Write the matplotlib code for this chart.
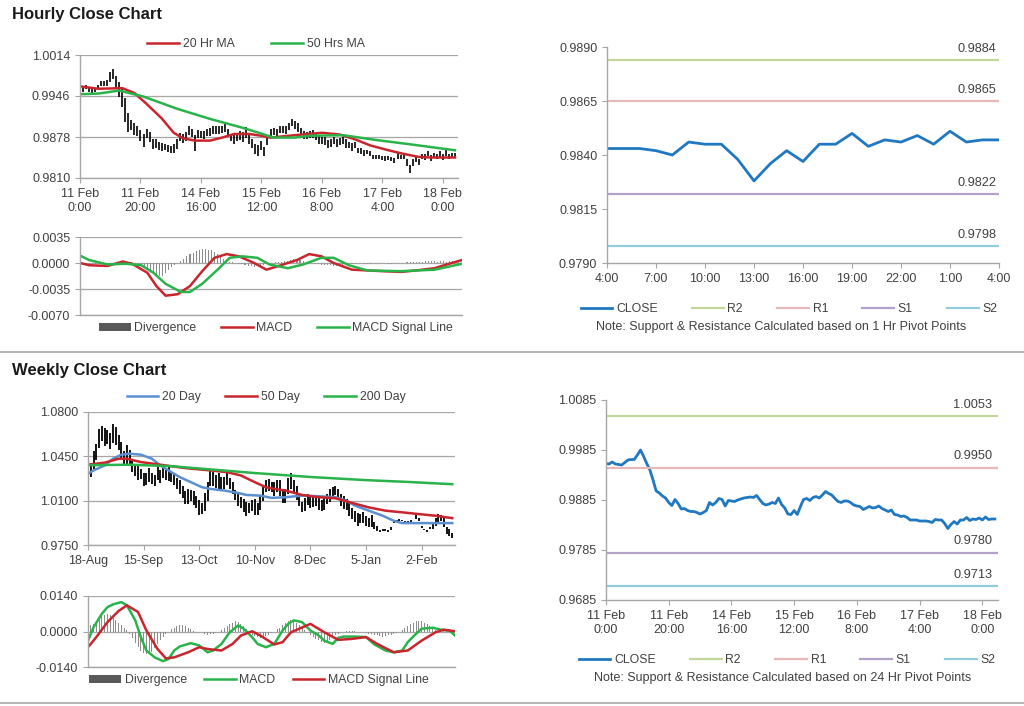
import numpy as np
import matplotlib
matplotlib.use("Agg")
import matplotlib.pyplot as plt
from matplotlib.lines import Line2D
from matplotlib.patches import Patch

plt.rcParams['font.family'] = ['Liberation Sans', 'DejaVu Sans']

# ---------------- hourly data (11 Feb 0:00 -> 18 Feb 4:00, 125 bars) ----------------
hourly_close = [
    0.9958, 0.9957, 0.9961, 0.9957, 0.9956, 0.9955, 0.9960, 0.9965, 0.9966, 0.9966,
    0.9975, 0.9985, 0.9972, 0.9958, 0.9945, 0.9925, 0.9903, 0.9899, 0.9893, 0.9889,
    0.9880, 0.9874, 0.9886, 0.9878, 0.9867, 0.9868, 0.9864, 0.9862, 0.9862, 0.9860,
    0.9857, 0.9860, 0.9864, 0.9880, 0.9875, 0.9880, 0.9888, 0.9886, 0.9873, 0.9884,
    0.9883, 0.9882, 0.9885, 0.9887, 0.9889, 0.9890, 0.9891, 0.9890, 0.9894, 0.9886,
    0.9878, 0.9875, 0.9877, 0.9880, 0.9878, 0.9889, 0.9876, 0.9869, 0.9857, 0.9856,
    0.9864, 0.9856, 0.9872, 0.9886, 0.9888, 0.9884, 0.9890, 0.9892, 0.9889, 0.9895,
    0.9902, 0.9898, 0.9895, 0.9888, 0.9882, 0.9880, 0.9883, 0.9883, 0.9880, 0.9875,
    0.9873, 0.9872, 0.9866, 0.9869, 0.9872, 0.9869, 0.9870, 0.9873, 0.9868, 0.9865,
    0.9862, 0.9865, 0.9856, 0.9855, 0.9852, 0.9853, 0.9850, 0.9845, 0.9845, 0.9845,
    0.9843, 0.9843, 0.9843, 0.9842, 0.9840, 0.9846, 0.9845, 0.9845, 0.9838, 0.9828,
    0.9836, 0.9842, 0.9837, 0.9845, 0.9845, 0.9850, 0.9844, 0.9847, 0.9846, 0.9849,
    0.9845, 0.9851, 0.9846, 0.9847, 0.9847,
]
# bar extent above / below close, in pips
hourly_up = [
    4, 3, 4, 3, 3, 4, 5, 6, 5, 6,
    10, 6, 8, 12, 14, 18, 14, 8, 9, 8,
    10, 9, 6, 9, 7, 6, 5, 6, 5, 5,
    6, 7, 10, 5, 8, 6, 8, 5, 9, 6,
    5, 6, 7, 6, 8, 7, 6, 6, 7, 6,
    5, 6, 7, 8, 9, 6, 8, 6, 10, 9,
    7, 6, 9, 6, 5, 7, 6, 5, 8, 6,
    6, 6, 6, 5, 6, 7, 5, 6, 5, 6,
    5, 6, 7, 5, 6, 5, 6, 5, 7, 5,
    6, 5, 4, 5, 4, 3, 4, 3, 3, 3,
    3, 3, 4, 3, 4, 5, 3, 3, 4, 3,
    5, 5, 4, 5, 4, 5, 4, 5, 4, 5,
    4, 5, 3, 4, 4,
]
hourly_dn = [
    3, 4, 3, 4, 5, 3, 4, 3, 4, 4,
    6, 10, 12, 14, 18, 22, 16, 10, 12, 10,
    8, 12, 10, 8, 9, 8, 7, 8, 6, 7,
    6, 8, 6, 9, 7, 8, 6, 8, 18, 7,
    6, 7, 6, 8, 6, 7, 8, 6, 7, 8,
    7, 8, 6, 7, 9, 12, 10, 9, 8, 10,
    8, 10, 8, 6, 7, 6, 5, 7, 6, 5,
    6, 7, 8, 6, 7, 6, 7, 6, 7, 8,
    6, 7, 6, 7, 6, 7, 6, 7, 8, 6,
    7, 6, 5, 6, 5, 4, 4, 3, 3, 3,
    3, 4, 3, 3, 5, 4, 3, 4, 8, 9,
    6, 5, 6, 4, 5, 4, 5, 4, 5, 4,
    5, 4, 4, 4, 4,
]
hourly_ticks = ["11 Feb\n0:00", "11 Feb\n20:00", "14 Feb\n16:00", "15 Feb\n12:00",
                "16 Feb\n8:00", "17 Feb\n4:00", "18 Feb\n0:00"]

ma20_x = [0, 6, 14, 18, 22, 27, 31, 34, 38, 43, 47, 51, 56, 60, 63, 71, 80, 86, 91, 96, 102, 107, 112, 116, 124]
ma20_y = [0.9962, 0.9958, 0.9959, 0.9951, 0.9933, 0.9909, 0.9885, 0.9876, 0.9872, 0.9872, 0.9877,
          0.9883, 0.9883, 0.9880, 0.9877, 0.9881, 0.9885, 0.9882, 0.9874, 0.9864, 0.9856, 0.9850,
          0.9845, 0.9844, 0.9844]
ma50_x = [0, 6, 13, 21, 32, 43, 54, 61, 64, 71, 76, 87, 98, 109, 124]
ma50_y = [0.9949, 0.9950, 0.9955, 0.9945, 0.9925, 0.9908, 0.9893, 0.9882, 0.9877, 0.9877, 0.9880,
          0.9881, 0.9873, 0.9866, 0.9856]

# hourly MACD
h_macd_x = [0, 3, 9, 14, 17, 22, 25, 28, 32, 36, 40, 44, 48, 52, 57, 61, 65, 71, 75, 79, 83, 89,
            99, 105, 110, 116, 120, 125]
h_macd_y = [0.0, -0.0003, -0.0004, 0.0002, -0.0001, -0.0013, -0.0031, -0.0044, -0.0042, -0.0031,
            -0.0011, 0.0007, 0.0012, 0.0009, 0.0, -0.0009, -0.0004, 0.0004, 0.0012, 0.0009, 0.0,
            -0.0009, -0.0011, -0.0012, -0.0010, -0.0007, -0.0002, 0.0004]
h_sig_x = [0, 3, 9, 15, 20, 24, 28, 33, 36, 40, 45, 49, 53, 58, 62, 68, 73, 79, 83, 88, 94, 105, 116, 125]
h_sig_y = [0.0010, 0.0004, -0.0002, -0.0001, -0.0003, -0.0013, -0.0028, -0.0039, -0.0039, -0.0028,
           -0.0009, 0.0007, 0.0009, 0.0007, -0.0002, -0.0007, -0.0002, 0.0007, 0.0007, -0.0003,
           -0.0010, -0.0011, -0.0009, -0.0001]
# divergence, units of 1e-4
h_div = [
    -3, -3, -2, -2, -1, -1, -1, 0, -1, -1,
    0, 0, 0, 0, 1, 1, 1, 1, 0, -1,
    -3, -5, -8, -11, -14, -16, -18, -17, -14, -10,
    -6, -3, 0, 3, 6, 9, 12, 14, 16, 18,
    19, 19, 18, 17, 15, 12, 9, 6, 4, 2,
    1, 0, -1, -2, -3, -4, -4, -5, -4, -4,
    -3, -2, -1, 0, 1, 2, 2, 3, 3, 4,
    5, 5, 4, 3, 2, 1, 0, -1, -2, -3,
    -3, -3, -3, -4, -4, -3, -3, -2, -2, -1,
    -1, 0, 0, -1, -1, -1, 0, 0, 0, 0,
    0, -1, -1, 0, 0, 0, 0, 1, 1, 1,
    2, 2, 2, 3, 3, 3, 3, 2, 3, 3,
    2, 3, 3, 3, 3,
]

# last 24 hours (1 Hr pivots)
last24_close = [0.9843, 0.9843, 0.9843, 0.9842, 0.9840, 0.9846, 0.9845, 0.9845, 0.9838, 0.9828,
                0.9836, 0.9842, 0.9837, 0.9845, 0.9845, 0.9850, 0.9844, 0.9847, 0.9846, 0.9849,
                0.9845, 0.9851, 0.9846, 0.9847, 0.9847]
last24_ticks = ["4:00", "7:00", "10:00", "13:00", "16:00", "19:00", "22:00", "1:00", "4:00"]
pivots_1h = {"R2": 0.9884, "R1": 0.9865, "S1": 0.9822, "S2": 0.9798}
pivots_24h = {"R2": 1.0053, "R1": 0.9950, "S1": 0.9780, "S2": 0.9713}

# ---------------- daily data (18-Aug -> mid Feb, 132 bars) ----------------
daily_mid = [
    1.0290, 1.0340, 1.0420, 1.0484, 1.0590, 1.0630, 1.0600, 1.0604, 1.0570, 1.0630,
    1.0610, 1.0560, 1.0500, 1.0440, 1.0465, 1.0440, 1.0380, 1.0340, 1.0320, 1.0310,
    1.0265, 1.0270, 1.0305, 1.0275, 1.0260, 1.0320, 1.0290, 1.0320, 1.0305, 1.0310,
    1.0290, 1.0270, 1.0235, 1.0210, 1.0170, 1.0125, 1.0130, 1.0140, 1.0120, 1.0090,
    1.0045, 1.0040, 1.0090, 1.0175, 1.0280, 1.0272, 1.0250, 1.0255, 1.0240, 1.0240,
    1.0280, 1.0235, 1.0200, 1.0145, 1.0110, 1.0085, 1.0060, 1.0035, 1.0045, 1.0060,
    1.0050, 1.0035, 1.0080, 1.0160, 1.0215, 1.0225, 1.0210, 1.0195, 1.0215, 1.0200,
    1.0135, 1.0140, 1.0215, 1.0255, 1.0215, 1.0160, 1.0110, 1.0050, 1.0070, 1.0110,
    1.0090, 1.0095, 1.0100, 1.0075, 1.0062, 1.0085, 1.0112, 1.0140, 1.0165, 1.0178,
    1.0155, 1.0105, 1.0085, 1.0070, 1.0035, 1.0000, 0.9975, 0.9950, 0.9960, 0.9965,
    0.9942, 0.9930, 0.9940, 0.9905, 0.9878, 0.9862, 0.9865, 0.9870, 0.9862, 0.9880,
    0.9935, 0.9945, 0.9948, 0.9942, 0.9930, 0.9935, 0.9940, 0.9930, 0.9975, 0.9950,
    0.9890, 0.9872, 0.9862, 0.9885, 0.9900, 0.9930, 0.9960, 0.9965, 0.9930, 0.9865,
    0.9848, 0.9822,
]
daily_range = [
    120, 100, 140, 130, 150, 120, 140, 110, 130, 150,
    140, 120, 130, 110, 150, 120, 100, 90, 110, 80,
    100, 90, 110, 80, 90, 120, 100, 90, 80, 110,
    90, 100, 80, 110, 90, 100, 120, 90, 110, 100,
    120, 90, 140, 150, 130, 110, 100, 120, 90, 100,
    110, 90, 100, 80, 110, 90, 100, 110, 80, 90,
    120, 100, 110, 130, 90, 100, 80, 110, 90, 120,
    100, 110, 130, 120, 90, 110, 100, 80, 110, 90,
    100, 90, 80, 100, 90, 110, 80, 100, 90, 70,
    80, 90, 100, 80, 110, 90, 80, 100, 70, 90,
    80, 70, 90, 60, 40, 20, 15, 12, 15, 20,
    15, 10, 15, 10, 12, 10, 15, 10, 40, 20,
    15, 12, 15, 20, 40, 60, 70, 50, 80, 60,
    50, 40,
]
daily_ticks = ["18-Aug", "15-Sep", "13-Oct", "10-Nov", "8-Dec", "5-Jan", "2-Feb"]

d20_x = [0, 2, 6, 9, 12, 15, 19, 23, 26, 30, 33, 37, 41, 44, 49, 54, 57, 62, 66, 71, 77, 83, 89,
         93, 96, 101, 106, 110, 113, 119, 125, 131]
d20_y = [1.0312, 1.0339, 1.0378, 1.0431, 1.0463, 1.0471, 1.0463, 1.0431, 1.0378, 1.0325, 1.0286,
         1.0246, 1.0206, 1.0193, 1.0180, 1.0161, 1.0145, 1.0140, 1.0122, 1.0127, 1.0140, 1.0135,
         1.0127, 1.0100, 1.0061, 1.0021, 0.9981, 0.9941, 0.9923, 0.9923, 0.9923, 0.9923]
d50_x = [0, 6, 11, 14, 19, 26, 35, 44, 50, 55, 60, 64, 67, 71, 77, 83, 89, 95, 101, 107, 113, 119, 125, 131]
d50_y = [1.0384, 1.0400, 1.0431, 1.0431, 1.0405, 1.0384, 1.0357, 1.0339, 1.0325, 1.0299, 1.0246,
         1.0206, 1.0193, 1.0180, 1.0145, 1.0127, 1.0119, 1.0082, 1.0047, 1.0021, 1.0008, 0.9994,
         0.9981, 0.9962]
d200_x = [0, 15, 30, 45, 60, 80, 100, 115, 131]
d200_y = [1.0380, 1.0384, 1.0372, 1.0345, 1.0318, 1.0287, 1.0262, 1.0248, 1.0230]

d_macd_x = [0, 2, 5, 7, 9, 12, 14, 17, 19, 21, 24, 27, 29, 31, 33, 37, 40, 43, 45, 48, 51, 54, 56,
            59, 61, 64, 67, 70, 72, 74, 77, 80, 83, 85, 88, 90, 92, 96, 100, 103, 107, 110, 113,
            115, 118, 120, 124, 127, 130, 132]
d_macd_y = [-0.0036, 0.0017, 0.0070, 0.0096, 0.0107, 0.0116, 0.0103, 0.0044, -0.0022, -0.0075,
            -0.0102, -0.0117, -0.0108, -0.0075, -0.0059, -0.0046, -0.0055, -0.0082, -0.0075,
            -0.0049, -0.0003, 0.0024, 0.0011, -0.0022, -0.0049, -0.0062, -0.0049, 0.0004, 0.0030,
            0.0044, 0.0037, 0.0004, -0.0016, -0.0036, -0.0049, -0.0025, -0.0020, -0.0020, -0.0022,
            -0.0051, -0.0075, -0.0082, -0.0075, -0.0042, -0.0009, 0.0011, 0.0015, 0.0007, 0.0004,
            -0.0016]
d_sig_x = [0, 3, 7, 11, 14, 18, 21, 25, 28, 31, 36, 40, 43, 48, 52, 55, 59, 62, 67, 70, 73, 80, 85,
           90, 95, 100, 104, 110, 115, 120, 125, 128, 132]
d_sig_y = [-0.0062, -0.0022, 0.0037, 0.0081, 0.0103, 0.0077, 0.0004, -0.0069, -0.0106, -0.0102,
           -0.0082, -0.0062, -0.0069, -0.0075, -0.0049, -0.0016, 0.0001, -0.0016, -0.0051, -0.0042,
           -0.0003, 0.0030, -0.0003, -0.0033, -0.0029, -0.0022, -0.0049, -0.0082, -0.0075, -0.0036,
           -0.0003, 0.0007, 0.0001]
d_div = [
    20, 25, 30, 40, 50, 60, 65, 70, 65, 55,
    45, 35, 25, 15, 5, -10, -25, -45, -60, -75,
    -85, -90, -88, -80, -65, -50, -35, -20, -10, 0,
    8, 15, 20, 25, 25, 22, 15, 8, 2, 0,
    -3, -8, -10, -12, -10, -8, -5, 0, 5, 12,
    20, 28, 35, 40, 38, 30, 20, 10, -5, -12,
    -18, -22, -25, -22, -18, -12, -6, 0, 8, 15,
    25, 35, 42, 45, 42, 35, 25, 15, 5, -5,
    -12, -20, -28, -35, -40, -45, -40, -32, -25, -15,
    -8, -3, 0, 2, 3, 3, 2, 0, -2, -3,
    -5, -8, -10, -12, -15, -18, -20, -18, -15, -12,
    -8, -5, -2, 5, 12, 20, 28, 35, 40, 42,
    40, 35, 28, 20, 12, 5, 2, 0, 2, 3,
    0, -5,
]

# ---------------- styling ----------------
W, H = 1024, 706
RED = '#c8262c'
GREEN = '#2ab34a'
BLUE20 = '#5b8fd2'
CLOSE_C = '#1f78c1'
PIV_C = {"R2": '#c4d79b', "R1": '#e6b9b8', "S1": '#b3a2c7', "S2": '#92cddc'}
GRID = '#a6a6a6'
TXT = '#404040'
DIV_C = '#8c8c8c'


def px_axes(fig, x0, y0, x1, y1):
    return fig.add_axes([x0 / W, 1 - y1 / H, (x1 - x0) / W, (y1 - y0) / H])


def style(ax, grid=True):
    for s in ['top', 'right']:
        ax.spines[s].set_visible(False)
    for s in ['left', 'bottom']:
        ax.spines[s].set_color(GRID)
        ax.spines[s].set_linewidth(1.0)
    ax.tick_params(axis='both', colors=GRID, labelcolor=TXT, labelsize=9, length=3.5, width=0.8)
    if grid:
        ax.yaxis.grid(True, color=GRID, lw=0.9)
        ax.set_axisbelow(True)


def set_yt(ax, vals):
    ax.set_ylim(vals[0], vals[-1])
    ax.set_yticks(vals)
    ax.set_yticklabels([f"{v:.4f}" for v in vals])


def fig_legend(fig, handles, labels, cx, cy, **kw):
    opts = dict(loc='center', bbox_to_anchor=(cx / W, 1 - cy / H), bbox_transform=fig.transFigure,
                ncol=len(handles), frameon=False, fontsize=8.8, handlelength=2.6, columnspacing=2.6,
                handletextpad=0.3, labelcolor=TXT)
    opts.update(kw)
    fig.legend(handles, labels, **opts)


fig = plt.figure(figsize=(W / 100, H / 100), dpi=100)
fig.patch.set_facecolor('white')

fig.text(12 / W, 1 - 15 / H, "Hourly Close Chart", fontsize=12, fontweight='bold', va='center', color='#1a1a1a')
fig.text(12 / W, 1 - 370 / H, "Weekly Close Chart", fontsize=12, fontweight='bold', va='center', color='#1a1a1a')
for yy in (352, 703):
    fig.add_artist(Line2D([0, 1], [1 - yy / H] * 2, color=GRID, lw=1.2, transform=fig.transFigure))

# ---- hourly price bars ----
hc = np.array(hourly_close)
hx = np.arange(len(hc))
ax = px_axes(fig, 80, 55, 458, 178)
style(ax)
ax.vlines(hx, hc - np.array(hourly_dn) * 1e-4, hc + np.array(hourly_up) * 1e-4, color='black', lw=1.2)
l20, = ax.plot(ma20_x, ma20_y, color=RED, lw=1.8)
l50, = ax.plot(ma50_x, ma50_y, color=GREEN, lw=1.8)
set_yt(ax, [0.9810, 0.9878, 0.9946, 1.0014])
ax.set_xlim(0, 125)
ax.set_xticks(range(0, 121, 20))
ax.set_xticklabels(hourly_ticks)
fig_legend(fig, [l20, l50], ["20 Hr MA", "50 Hrs MA"], 256, 44, columnspacing=3.0)

# ---- hourly MACD ----
ax = px_axes(fig, 80, 237, 462, 315)
style(ax)
ax.bar(hx, np.array(h_div) * 1e-4, width=0.35, color=DIV_C)
m1, = ax.plot(h_macd_x, h_macd_y, color=RED, lw=1.8)
m2, = ax.plot(h_sig_x, h_sig_y, color=GREEN, lw=1.8)
set_yt(ax, [-0.0070, -0.0035, 0.0, 0.0035])
ax.set_xlim(0, 125)
ax.set_xticks([])
fig_legend(fig, [Patch(facecolor='#595959'), m1, m2], ["Divergence", "MACD", "MACD Signal Line"],
           276, 328, handleheight=0.6, columnspacing=2.0)

# ---- last 24 hours with 1 Hr pivots ----
ax = px_axes(fig, 607, 47, 999, 263)
style(ax, grid=False)
hs = []
c, = ax.plot(range(len(last24_close)), last24_close, color=CLOSE_C, lw=2)
hs.append(c)
for k, v in pivots_1h.items():
    ln = ax.axhline(v, color=PIV_C[k], lw=1.6)
    hs.append(ln)
    ax.annotate(f"{v:.4f}", xy=(1, v), xycoords=('axes fraction', 'data'), xytext=(-2, 8),
                textcoords='offset points', ha='right', va='center', fontsize=9.2, color=TXT)
set_yt(ax, [0.9790, 0.9815, 0.9840, 0.9865, 0.9890])
ax.set_xlim(0, 24)
ax.set_xticks(range(0, 25, 3))
ax.set_xticklabels(last24_ticks)
fig_legend(fig, hs, ["CLOSE", "R2", "R1", "S1", "S2"], 789, 309, columnspacing=2.8)
fig.text(781 / W, 1 - 327 / H, "Note: Support & Resistance Calculated based on 1 Hr Pivot Points",
         ha='center', va='center', fontsize=9, color=TXT)

# ---- daily price bars ----
dm = np.array(daily_mid)
dr = np.array(daily_range) * 1e-4
dx = np.arange(len(dm))
ax = px_axes(fig, 88, 412, 455, 545)
style(ax)
ax.vlines(dx, dm - dr / 2, dm + dr / 2, color='black', lw=1.3)
a1, = ax.plot(d20_x, d20_y, color=BLUE20, lw=1.8)
a2, = ax.plot(d50_x, d50_y, color=RED, lw=1.8)
a3, = ax.plot(d200_x, d200_y, color=GREEN, lw=1.8)
set_yt(ax, [0.9750, 1.0100, 1.0450, 1.0800])
ax.set_xlim(0, 132)
ax.set_xticks(range(0, 121, 20))
ax.set_xticklabels(daily_ticks)
fig_legend(fig, [a1, a2, a3], ["20 Day", "50 Day", "200 Day"], 266, 397, columnspacing=2.0)

# ---- daily MACD ----
ax = px_axes(fig, 88, 596, 455, 667)
style(ax)
ax.bar(dx, np.array(d_div) * 1e-4, width=0.35, color=DIV_C)
b1, = ax.plot(d_macd_x, d_macd_y, color=GREEN, lw=1.8)
b2, = ax.plot(d_sig_x, d_sig_y, color=RED, lw=1.8)
set_yt(ax, [-0.0140, 0.0, 0.0140])
ax.set_xlim(0, 132)
ax.set_xticks([])
fig_legend(fig, [Patch(facecolor='#595959'), b1, b2], ["Divergence", "MACD", "MACD Signal Line"],
           259, 680, handleheight=0.6, columnspacing=1.4)

# ---- hourly close with 24 Hr pivots ----
ax = px_axes(fig, 606, 400, 998, 600)
style(ax, grid=False)
hs = []
c, = ax.plot(hx, hc, color=CLOSE_C, lw=2)
hs.append(c)
for k, v in pivots_24h.items():
    ln = ax.axhline(v, color=PIV_C[k], lw=1.6)
    hs.append(ln)
    ax.annotate(f"{v:.4f}", xy=(1, v), xycoords=('axes fraction', 'data'), xytext=(-4, 8),
                textcoords='offset points', ha='right', va='center', fontsize=9.2, color=TXT)
set_yt(ax, [0.9685, 0.9785, 0.9885, 0.9985, 1.0085])
ax.set_xlim(0, 125)
ax.set_xticks(range(0, 121, 20))
ax.set_xticklabels(hourly_ticks)
fig_legend(fig, hs, ["CLOSE", "R2", "R1", "S1", "S2"], 787, 660, columnspacing=2.8)
fig.text(783 / W, 1 - 678 / H, "Note: Support & Resistance Calculated based on 24 Hr Pivot Points",
         ha='center', va='center', fontsize=9, color=TXT)

fig.savefig("out.png", dpi=100, facecolor='white')
